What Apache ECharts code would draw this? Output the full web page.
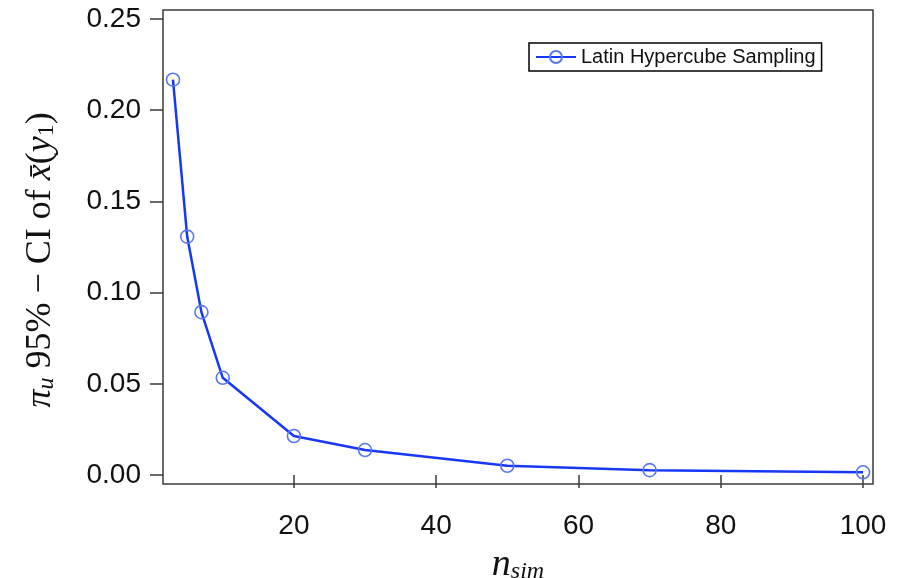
<!DOCTYPE html>
<html>
<head>
<meta charset="utf-8">
<script src="https://cdn.jsdelivr.net/npm/echarts@6/dist/echarts.min.js"></script>
<style>
html,body{margin:0;padding:0;background:#fff;}
#chart{width:898px;height:578px;}
</style>
</head>
<body>
<div id="chart"></div>
<script>
const nsim = [3, 5, 7, 10, 20, 30, 50, 70, 100];
const ciValues = [0.2167, 0.1307, 0.0893, 0.0533, 0.0214, 0.0137, 0.0051, 0.0027, 0.0015];
const xTicks = [20, 40, 60, 80, 100];
const xTickLabels = ['20', '40', '60', '80', '100'];
const yTicks = [0, 0.05, 0.10, 0.15, 0.20, 0.25];
const yTickLabels = ['0.00', '0.05', '0.10', '0.15', '0.20', '0.25'];
const seriesName = 'Latin Hypercube Sampling';

const chart = echarts.init(document.getElementById('chart'));
const labelFont = 'Liberation Sans, Arial, sans-serif';
const serif = 'Liberation Serif, Times New Roman, serif';

chart.setOption({
  animation: false,
  backgroundColor: '#fff',
  grid: {
    left: 163, top: 10, right: 25, bottom: 94,
    outerBoundsMode: 'none',
    containLabel: false,
    show: true, borderColor: '#3a3a3a', borderWidth: 1.5, backgroundColor: 'transparent'
  },
  legend: {
    data: [seriesName],
    left: 529, top: 43,
    padding: [4, 6, 4, 6],
    borderColor: '#000', borderWidth: 1.5,
    itemWidth: 40, itemHeight: 15, itemGap: 10,
    textStyle: { fontSize: 20, color: '#111', fontFamily: labelFont }
  },
  xAxis: {
    type: 'value',
    min: 1.6, max: 101.4,
    name: '{n|n}{s|sim}',
    nameLocation: 'middle',
    nameGap: 62,
    nameTextStyle: {
      rich: {
        n: { fontFamily: serif, fontStyle: 'italic', fontSize: 38, color: '#111' },
        s: { fontFamily: serif, fontStyle: 'italic', fontSize: 24, color: '#111', padding: [14, 0, 0, 0] }
      }
    },
    splitLine: { show: false },
    axisLine: { show: false },
    axisTick: { show: true, inside: false, length: 13, customValues: xTicks, lineStyle: { color: '#3a3a3a', width: 1.5 } },
    axisLabel: {
      customValues: xTicks,
      formatter: v => xTickLabels[xTicks.indexOf(v)] ?? '',
      fontSize: 28, color: '#111', fontFamily: labelFont, margin: 28
    }
  },
  yAxis: {
    type: 'value',
    min: -0.0049, max: 0.2549,
    name: '{p|π}{ps|u}{t| 95% − CI of }{i|x̄}{t|(}{i|y}{ts|1}{t|)}',
    nameLocation: 'middle',
    nameRotate: 90,
    nameGap: 104,
    nameTextStyle: {
      padding: [0, 26, 0, 0],
      rich: {
        p: { fontFamily: serif, fontStyle: 'italic', fontSize: 36, color: '#111' },
        ps: { fontFamily: serif, fontStyle: 'italic', fontSize: 24, color: '#111', padding: [13, 0, 0, 0] },
        t: { fontFamily: serif, fontSize: 36, color: '#111' },
        i: { fontFamily: serif, fontStyle: 'italic', fontSize: 36, color: '#111' },
        ts: { fontFamily: serif, fontSize: 24, color: '#111', padding: [13, 0, 0, 0] }
      }
    },
    splitLine: { show: false },
    axisLine: { show: false },
    axisTick: { show: true, inside: false, length: 13, customValues: yTicks, lineStyle: { color: '#3a3a3a', width: 1.5 } },
    axisLabel: {
      customValues: yTicks,
      formatter: v => { const i = yTicks.findIndex(t => Math.abs(t - v) < 1e-9); return i >= 0 ? yTickLabels[i] : ''; },
      fontSize: 28, color: '#111', fontFamily: labelFont, margin: 22
    }
  },
  series: [{
    name: seriesName,
    type: 'line',
    data: nsim.map((x, i) => [x, ciValues[i]]),
    symbol: 'circle',
    symbolSize: 13,
    lineStyle: { color: '#1638f5', width: 2.5 },
    itemStyle: { color: 'rgba(0,0,0,0)', borderColor: '#5a78ee', borderWidth: 1.6 },
    z: 3
  }]
});
</script>
</body>
</html>
